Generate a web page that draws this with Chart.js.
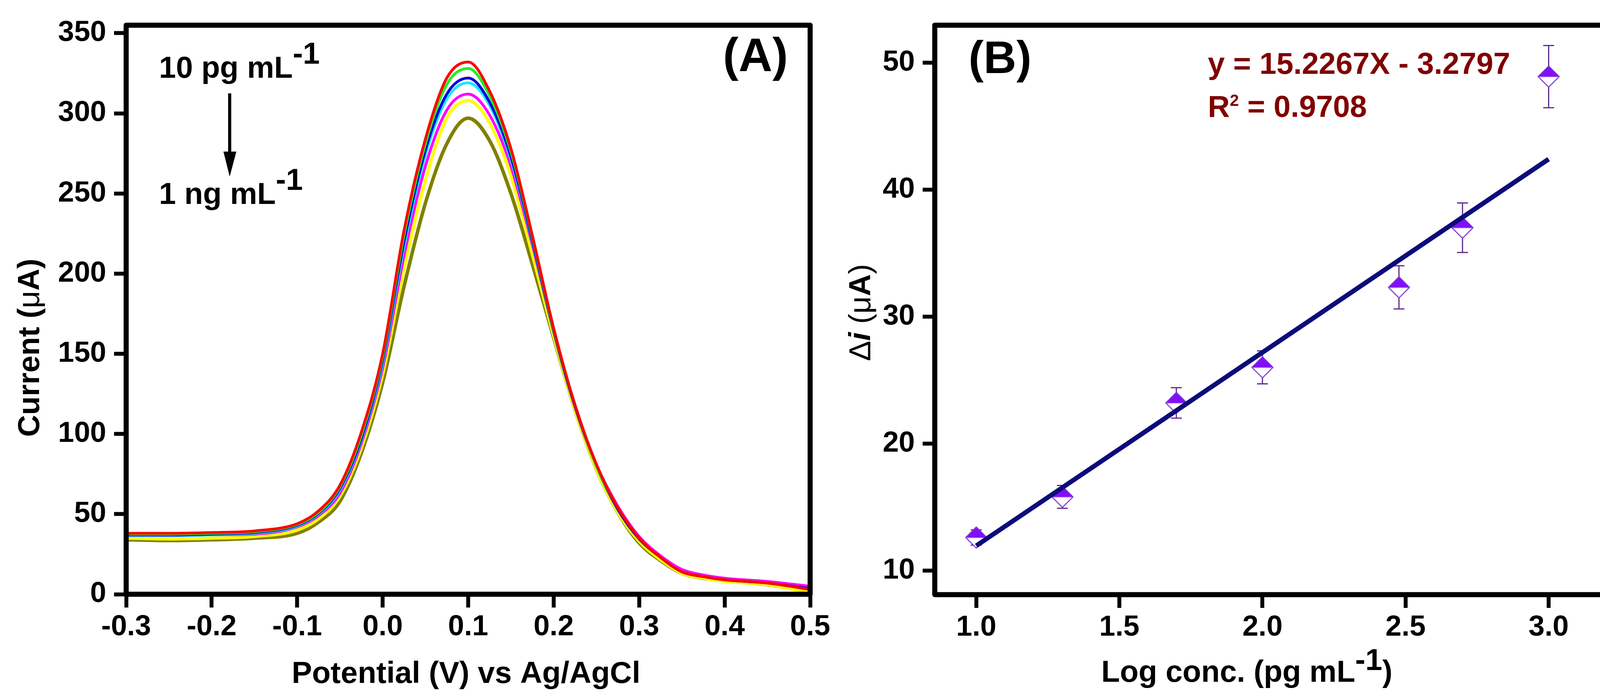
<!DOCTYPE html>
<html lang="en">
<head>
  <meta charset="UTF-8" />
  <title>DPV response and calibration</title>
  <script src="https://cdn.jsdelivr.net/npm/chart.js"></script>
  <style>
    body {
      margin: 0;
      padding: 0;
      background: #fff;
      width: 4187px;
      height: 1784px;
      overflow: hidden;
      position: relative;
    }
    canvas {
      position: absolute;
      top: 0;
    }
    #chartA { left: 0; }
    #chartB { left: 2150px; }
  </style>
</head>
<body>
  <canvas id="chartA" width="2150" height="1784"></canvas>
  <canvas id="chartB" width="2037" height="1784"></canvas>
  <script>
    /* =========================
         DATA - panel (A), DPV curves
       ========================= */
    const potential = [-0.3, -0.25, -0.2, -0.15, -0.1, -0.075, -0.05, -0.025, 0, 0.025, 0.05, 0.075, 0.1, 0.125, 0.15, 0.175, 0.2, 0.225, 0.25, 0.275, 0.3, 0.325, 0.35, 0.375, 0.4, 0.45, 0.5];
    const curveRed     = [38, 38, 38.5, 39.5, 44, 52, 68, 101, 150, 227, 284, 322, 332, 314, 278, 224, 166, 118, 81, 54, 35, 23, 14, 11, 9, 7, 3];
    const curveGreen   = [37.5, 37.5, 38, 39, 43.5, 51, 67, 99, 148, 224, 281, 318, 328, 311, 276, 223, 165, 118, 80, 54, 35, 23, 14, 11, 9, 7, 3];
    const curveBlue    = [37, 37, 37.5, 38.5, 43, 50.5, 66, 97, 146, 220, 277, 312, 322, 307, 273, 221, 164, 117, 80, 53, 34.5, 23, 14, 11, 9, 7, 3.5];
    const curveCyan    = [36.5, 36.5, 37, 38, 42.5, 50, 65, 96, 144, 217, 274, 309, 319, 305, 271, 220, 164, 117, 80, 53, 34.5, 23, 14, 11, 9, 7, 3];
    const curveMagenta = [37, 36.5, 37, 37.5, 42, 49, 63, 94, 141, 211, 267, 302, 312, 299, 267, 218, 164, 118, 81, 55, 36, 24, 15.5, 12, 10, 8, 5];
    const curveYellow  = [35, 34.5, 35, 36, 40, 47, 61, 91, 137, 203, 258, 297, 308, 294, 261, 212, 161, 115, 78, 51, 33, 21.5, 13, 10, 8, 6, 1];
    const curveOlive   = [34, 33.5, 34, 35, 38, 45, 58, 88, 132, 192, 244, 281, 297, 283, 250, 206, 160, 115, 78, 51, 32, 21, 13, 10, 8.5, 6, 1.5];
    const xTicksA = [-0.3, -0.2, -0.1, 0, 0.1, 0.2, 0.3, 0.4, 0.5];
    const yTicksA = [0, 50, 100, 150, 200, 250, 300, 350];

    /* =========================
         DATA - panel (B), calibration
       ========================= */
    const logConc = [1.0, 1.301, 1.699, 2.0, 2.477, 2.699, 3.0];
    const deltaI  = [12.6, 15.8, 23.2, 26.0, 32.3, 37.0, 48.9];
    const deltaErr = [0.6, 0.9, 1.2, 1.3, 1.7, 1.95, 2.45];
    const fitX = [1.0, 3.0];
    const fitY = [11.95, 42.40];
    const xTicksB = [1.0, 1.5, 2.0, 2.5, 3.0];
    const yTicksB = [10, 20, 30, 40, 50];

    /* =========================
         SHARED STYLE HELPERS
       ========================= */
    const FAMILY = '"Liberation Sans", Arial, sans-serif';
    const bold = s => `bold ${s}px ${FAMILY}`;
    const plain = s => `${s}px ${FAMILY}`;
    const boldItalic = s => `italic bold ${s}px ${FAMILY}`;

    // draw a row of text pieces (text, font, rise) one after another
    function drawRuns(ctx, runs, x, y, align) {
      let total = 0;
      runs.forEach(r => { ctx.font = r[1]; total += ctx.measureText(r[0]).width; });
      let cx = align === 'center' ? x - total / 2 : x;
      ctx.textAlign = 'left';
      ctx.textBaseline = 'alphabetic';
      runs.forEach(r => {
        ctx.font = r[1];
        ctx.fillText(r[0], cx, y - (r[2] || 0));
        cx += ctx.measureText(r[0]).width;
      });
    }

    const framePlugin = {
      id: 'frame',
      afterDraw(chart) {
        const { ctx, chartArea: a } = chart;
        ctx.save();
        ctx.strokeStyle = '#000';
        ctx.lineWidth = 13;
        ctx.lineJoin = 'round';
        ctx.strokeRect(a.left, a.top, a.right - a.left, a.bottom - a.top);
        ctx.restore();
      }
    };

    function axisX(min, max, ticks, height) {
      return {
        type: 'linear',
        min: min,
        max: max,
        afterBuildTicks: axis => { axis.ticks = ticks.map(v => ({ value: v })); },
        afterFit: axis => { axis.height = height; },
        border: { display: false },
        grid: { drawOnChartArea: false, drawTicks: true, tickLength: 34, tickWidth: 10, tickColor: '#000' },
        ticks: { color: '#000', padding: 6, maxRotation: 0, font: { family: FAMILY, size: 74, weight: 'bold' }, callback: v => v.toFixed(1) }
      };
    }

    function axisY(min, max, ticks, width) {
      return {
        type: 'linear',
        min: min,
        max: max,
        afterBuildTicks: axis => { axis.ticks = ticks.map(v => ({ value: v })); },
        afterFit: axis => { axis.width = width; },
        border: { display: false },
        grid: { drawOnChartArea: false, drawTicks: true, tickLength: 31, tickWidth: 10, tickColor: '#000' },
        ticks: { color: '#000', padding: 20, font: { family: FAMILY, size: 74, weight: 'bold' }, callback: v => String(v) }
      };
    }

    /* =========================
         PANEL (A)
       ========================= */
    const seriesA = [
      { label: '10 pg/mL', values: curveRed, color: '#ff0000', width: 7 },
      { label: '20 pg/mL', values: curveGreen, color: '#22ee22', width: 7 },
      { label: '50 pg/mL', values: curveBlue, color: '#0000e0', width: 7 },
      { label: '100 pg/mL', values: curveCyan, color: '#22e4ff', width: 7 },
      { label: '300 pg/mL', values: curveMagenta, color: '#ff00ff', width: 7 },
      { label: '500 pg/mL', values: curveYellow, color: '#ffff00', width: 8 },
      { label: '1 ng/mL', values: curveOlive, color: '#808000', width: 9 }
    ];

    const labelsA = {
      id: 'labelsA',
      afterDraw(chart) {
        const ctx = chart.ctx;
        ctx.save();
        ctx.fillStyle = '#000';
        drawRuns(ctx, [['Potential (V) vs Ag/AgCl', bold(78)]], 1193, 1748, 'center');
        ctx.save();
        ctx.translate(72, 890);
        ctx.rotate(-Math.PI / 2);
        drawRuns(ctx, [['Current (', bold(78)], ['\u03bc', plain(78)], ['A)', bold(78)]], 0, 28, 'center');
        ctx.restore();
        drawRuns(ctx, [['10 pg mL', bold(78)], ['-1', bold(78), 36]], 407, 199, 'left');
        drawRuns(ctx, [['1 ng mL', bold(78)], ['-1', bold(78), 36]], 407, 522, 'left');
        drawRuns(ctx, [['(A)', bold(120)]], 1934, 182, 'center');
        // arrow
        ctx.strokeStyle = '#000';
        ctx.lineWidth = 8;
        ctx.beginPath();
        ctx.moveTo(588, 239);
        ctx.lineTo(588, 400);
        ctx.stroke();
        ctx.beginPath();
        ctx.moveTo(572, 388);
        ctx.lineTo(605, 388);
        ctx.lineTo(588, 452);
        ctx.closePath();
        ctx.fill();
        ctx.restore();
      }
    };

    new Chart(document.getElementById('chartA').getContext('2d'), {
      type: 'line',
      data: {
        datasets: seriesA.map(s => ({
          label: s.label,
          data: potential.map((v, i) => ({ x: v, y: s.values[i] })),
          borderColor: s.color,
          backgroundColor: s.color,
          borderWidth: s.width,
          pointRadius: 0,
          fill: false,
          cubicInterpolationMode: 'monotone'
        }))
      },
      options: {
        responsive: false,
        animation: false,
        devicePixelRatio: 1,
        layout: { padding: { top: 48, right: 76, left: 0, bottom: 0 } },
        plugins: { legend: { display: false }, tooltip: { enabled: false } },
        scales: {
          x: axisX(-0.3, 0.5, xTicksA, 263),
          y: axisY(0, 355, yTicksA, 323)
        }
      },
      plugins: [framePlugin, labelsA]
    });

    /* =========================
         PANEL (B)
       ========================= */
    // half-filled diamond marker
    const marker = document.createElement('canvas');
    marker.width = 64;
    marker.height = 64;
    (function () {
      const m = marker.getContext('2d');
      const c = 32, r = 27;
      m.beginPath();
      m.moveTo(c, c - r); m.lineTo(c + r, c); m.lineTo(c, c + r); m.lineTo(c - r, c); m.closePath();
      m.fillStyle = '#fff';
      m.fill();
      m.beginPath();
      m.moveTo(c, c - r); m.lineTo(c + r, c); m.lineTo(c - r, c); m.closePath();
      m.fillStyle = '#8010f8';
      m.fill();
      m.beginPath();
      m.moveTo(c, c - r); m.lineTo(c + r, c); m.lineTo(c, c + r); m.lineTo(c - r, c); m.closePath();
      m.strokeStyle = '#7a2ed6';
      m.lineWidth = 2.5;
      m.stroke();
      m.beginPath();
      m.moveTo(c - r + 3, c + 1); m.lineTo(c + r - 3, c + 1);
      m.strokeStyle = '#c8a8f0';
      m.lineWidth = 2;
      m.stroke();
    })();

    const errorBars = {
      id: 'errorBars',
      beforeDatasetsDraw(chart) {
        const { ctx, scales } = chart;
        ctx.save();
        ctx.strokeStyle = '#5b2a8c';
        ctx.lineWidth = 3;
        logConc.forEach((v, i) => {
          const px = scales.x.getPixelForValue(v);
          const top = scales.y.getPixelForValue(deltaI[i] + deltaErr[i]);
          const bot = scales.y.getPixelForValue(deltaI[i] - deltaErr[i]);
          ctx.beginPath();
          ctx.moveTo(px, top); ctx.lineTo(px, bot);
          ctx.moveTo(px - 14, top); ctx.lineTo(px + 14, top);
          ctx.moveTo(px - 14, bot); ctx.lineTo(px + 14, bot);
          ctx.stroke();
        });
        ctx.restore();
      }
    };

    const labelsB = {
      id: 'labelsB',
      afterDraw(chart) {
        const ctx = chart.ctx;
        ctx.save();
        ctx.fillStyle = '#000';
        drawRuns(ctx, [['Log conc. (pg mL', bold(78)], ['-1', bold(78), 30], [')', bold(78)]], 1042, 1745, 'center');
        ctx.save();
        ctx.translate(50, 800);
        ctx.rotate(-Math.PI / 2);
        drawRuns(ctx, [['\u0394', plain(78)], ['i', boldItalic(78)], [' (', plain(78)], ['\u03bc', plain(78)], ['A', bold(78)], [')', plain(78)]], 0, 28, 'center');
        ctx.restore();
        drawRuns(ctx, [['(B)', bold(116)]], 410, 187, 'center');
        ctx.fillStyle = '#800000';
        drawRuns(ctx, [['y = 15.2267X - 3.2797', bold(78)]], 942, 189, 'left');
        drawRuns(ctx, [['R', bold(78)], ['2', bold(42), 28], [' = 0.9708', bold(78)]], 942, 299, 'left');
        ctx.restore();
      }
    };

    new Chart(document.getElementById('chartB').getContext('2d'), {
      type: 'scatter',
      data: {
        datasets: [
          {
            label: 'Linear fit',
            data: fitX.map((v, i) => ({ x: v, y: fitY[i] })),
            showLine: true,
            borderColor: '#0c0c7a',
            borderWidth: 12,
            pointRadius: 0,
            order: 0
          },
          {
            label: 'Delta i',
            data: logConc.map((v, i) => ({ x: v, y: deltaI[i] })),
            pointStyle: marker,
            pointRadius: 28,
            order: 1
          }
        ]
      },
      options: {
        responsive: false,
        animation: false,
        devicePixelRatio: 1,
        layout: { padding: { top: 59, right: 43, left: 0, bottom: 0 } },
        plugins: { legend: { display: false }, tooltip: { enabled: false } },
        scales: {
          x: axisX(0.855, 3.245, xTicksB, 262),
          y: axisY(8.1, 52.95, yTicksB, 243)
        }
      },
      plugins: [framePlugin, errorBars, labelsB]
    });
  </script>
</body>
</html>
